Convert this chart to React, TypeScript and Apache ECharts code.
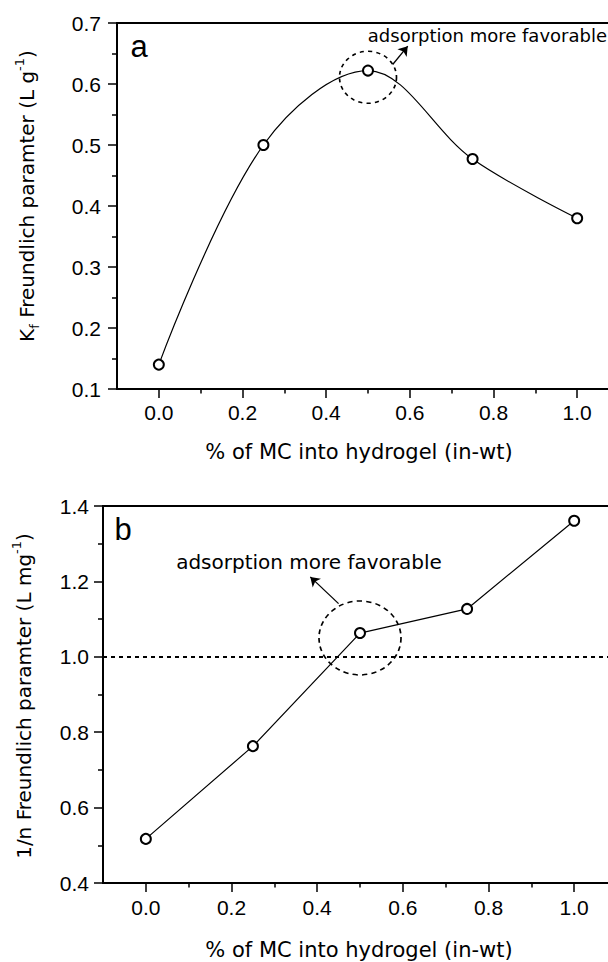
import React, { useEffect, useRef } from "react";
import * as echarts from "echarts";

// ---- data ----
const mcFraction = [0, 0.25, 0.5, 0.75, 1.0];
const kfValues = [0.14, 0.5, 0.622, 0.477, 0.38];
const nValues = [0.517, 0.763, 1.063, 1.127, 1.361];
const xMajorTicks = [0, 0.2, 0.4, 0.6, 0.8, 1.0];
const xMinorTicks = [0.1, 0.3, 0.5, 0.7, 0.9];
const favorableLine = 1.0;

// ---- annotation anchors (data coordinates) ----
const circleA = [0.5, 0.611];
const arrowA = [[0.559, 0.632], [0.595, 0.662]];
const circleB = [0.5, 1.05];
const arrowB = [[0.45, 1.141], [0.384, 1.212]];

const SANS = "Liberation Sans, Arial, sans-serif";
const WIDE = "DejaVu Sans, sans-serif";

function xAxes(gridIndex: number, margin: number) {
  return [
    {
      type: "value",
      gridIndex,
      min: -0.1,
      max: 1.1,
      position: "bottom",
      axisLine: { show: true, onZero: false, lineStyle: { color: "#000", width: 2 } },
      axisTick: { show: true, customValues: xMajorTicks, length: 9, lineStyle: { color: "#000", width: 1.5 } },
      axisLabel: {
        customValues: xMajorTicks,
        formatter: (v: number) => v.toFixed(1),
        margin,
        fontSize: 21,
        color: "#000",
        fontFamily: SANS,
      },
      splitLine: { show: false },
    },
    {
      type: "value",
      gridIndex,
      min: -0.1,
      max: 1.1,
      position: "bottom",
      axisLine: { show: false, onZero: false },
      axisTick: { show: true, customValues: xMinorTicks, length: 4.5, lineStyle: { color: "#000", width: 1.5 } },
      axisLabel: { show: false },
      splitLine: { show: false },
    },
  ];
}

function yAxis(gridIndex: number, min: number, max: number, interval: number, margin: number) {
  return {
    type: "value",
    gridIndex,
    min,
    max,
    interval,
    axisLine: { show: true, onZero: false, lineStyle: { color: "#000", width: 2 } },
    axisTick: { show: true, length: 9, lineStyle: { color: "#000", width: 1.5 } },
    minorTick: { show: true, splitNumber: 2, length: 5, lineStyle: { color: "#000", width: 1.5 } },
    axisLabel: {
      formatter: (v: number) => v.toFixed(1),
      margin,
      fontSize: 21,
      color: "#000",
      fontFamily: SANS,
    },
    splitLine: { show: false },
    minorSplitLine: { show: false },
  };
}

function text(x: number, y: number, t: string, size: number, family: string, align = "center") {
  return {
    type: "text",
    x,
    y,
    silent: true,
    style: {
      text: t,
      fontSize: size,
      fontFamily: family,
      fill: "#000",
      align,
      verticalAlign: "middle",
      textAlign: align,
      textVerticalAlign: "middle",
    },
  };
}

function rotatedTitle(x: number, y: number, t: string) {
  return {
    type: "text",
    x,
    y,
    rotation: Math.PI / 2,
    silent: true,
    style: {
      text: t,
      fill: "#000",
      fontSize: 20,
      fontFamily: WIDE,
      align: "center",
      verticalAlign: "middle",
      textAlign: "center",
      textVerticalAlign: "middle",
      rich: {
        n: { fontSize: 20, fontFamily: WIDE, fill: "#000", lineHeight: 28, verticalAlign: "middle" },
        s: { fontSize: 13, fontFamily: WIDE, fill: "#000", lineHeight: 28, verticalAlign: "bottom" },
        p: { fontSize: 13, fontFamily: WIDE, fill: "#000", lineHeight: 28, verticalAlign: "top" },
      },
    },
  };
}

export default function App() {
  const ref = useRef<HTMLDivElement>(null);

  useEffect(() => {
    if (!ref.current) return;
    const chart = echarts.init(ref.current, undefined, { renderer: "svg" });

    const markCircle = (coord: number[], size: number[], dash: number[]) => ({
      silent: true,
      symbol: "circle",
      symbolSize: size,
      label: { show: false },
      itemStyle: { color: "none", borderColor: "#000", borderWidth: 1.6, borderType: dash },
      data: [{ coord }],
    });

    const arrowLine = (pts: number[][]) => ({
      silent: true,
      symbol: ["none", "arrow"],
      symbolSize: 9,
      label: { show: false },
      lineStyle: { color: "#000", width: 1.3, type: "solid" },
      data: [[{ coord: pts[0] }, { coord: pts[1] }]],
    });

    const gridBase = {
      show: true,
      borderColor: "#000",
      borderWidth: 2,
      backgroundColor: "transparent",
      containLabel: false,
      outerBoundsMode: "none",
    };

    const option: any = {
      animation: false,
      backgroundColor: "#fff",
      grid: [
        { ...gridBase, left: 117, top: 23, width: 502, height: 366 },
        { ...gridBase, left: 103, top: 506, width: 514, height: 377 },
      ],
      xAxis: [...xAxes(0, 13), ...xAxes(1, 14)],
      yAxis: [yAxis(0, 0.1, 0.7, 0.1, 16), yAxis(1, 0.4, 1.4, 0.2, 14)],
      series: [
        {
          type: "line",
          xAxisIndex: 0,
          yAxisIndex: 0,
          data: mcFraction.map((x, i) => [x, kfValues[i]]),
          smooth: 0.35,
          symbol: "emptyCircle",
          symbolSize: 10,
          lineStyle: { color: "#000", width: 1.2 },
          itemStyle: { color: "#000", borderWidth: 1.5 },
          markPoint: markCircle(circleA, [57, 52], [4, 4]),
          markLine: arrowLine(arrowA),
        },
        {
          type: "line",
          xAxisIndex: 2,
          yAxisIndex: 1,
          data: mcFraction.map((x, i) => [x, nValues[i]]),
          symbol: "emptyCircle",
          symbolSize: 10,
          lineStyle: { color: "#000", width: 1.2 },
          itemStyle: { color: "#000", borderWidth: 1.5 },
          markPoint: markCircle(circleB, [82, 74], [5, 4]),
          markLine: {
            silent: true,
            symbol: ["none", "none"],
            label: { show: false },
            data: [
              [
                { coord: arrowB[0], symbol: "none", lineStyle: { color: "#000", width: 1.3, type: "solid" } },
                { coord: arrowB[1], symbol: "arrow", symbolSize: 9 },
              ],
              { yAxis: favorableLine, lineStyle: { color: "#000", width: 1.8, type: [4, 4] } },
            ],
          },
        },
      ],
      graphic: [
        text(139, 46, "a", 31, SANS),
        text(123, 529, "b", 31, SANS),
        text(607, 35, "adsorption more favorable", 18, WIDE, "right"),
        text(309, 562, "adsorption more favorable", 20, WIDE),
        text(359, 452, "% of MC into hydrogel (in-wt)", 21, WIDE),
        text(359, 950, "% of MC into hydrogel (in-wt)", 21, WIDE),
        rotatedTitle(27, 196, "{n|K}{s|f}{n| Freundlich paramter (L g}{p|-1}{n|)}"),
        rotatedTitle(24, 696, "{n|1/n Freundlich paramter (L mg}{p|-1}{n|)}"),
      ],
    };

    chart.setOption(option);
    return () => chart.dispose();
  }, []);

  return <div ref={ref} style={{ position: "absolute", left: 0, top: 0, width: 608, height: 962 }} />;
}
